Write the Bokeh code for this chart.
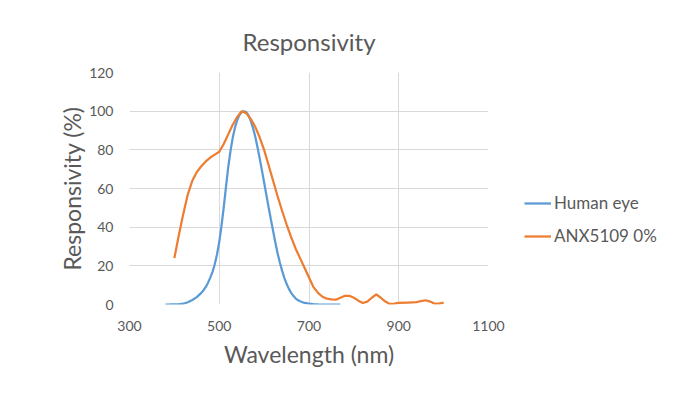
from bokeh.plotting import figure
from bokeh.layouts import row
from bokeh.models import Range1d, FixedTicker, Legend, LegendItem
from bokeh.embed import file_html
from bokeh.resources import INLINE

eye_wl = [380, 390, 400, 410, 420, 430, 440, 450, 460, 465, 470, 475, 480, 485, 490, 495,
          500, 505, 510, 515, 520, 525, 530, 535, 540, 545, 550, 555, 560, 565, 570, 575,
          580, 585, 590, 595, 600, 605, 610, 615, 620, 625, 630, 635, 640, 645, 650, 655,
          660, 665, 670, 675, 680, 690, 700, 710, 720, 740, 770]
eye_val = [0.0, 0.01, 0.04, 0.12, 0.4, 1.16, 2.3, 3.8, 6.0, 7.4, 9.1, 11.3, 13.9, 16.9,
           20.8, 25.9, 32.3, 40.7, 50.3, 60.8, 71.0, 79.3, 86.2, 91.5, 95.4, 98.0, 99.5,
           100.0, 99.5, 97.9, 95.2, 91.5, 87.0, 81.6, 75.7, 69.5, 63.1, 56.7, 50.3, 44.1,
           38.1, 32.1, 26.5, 21.7, 17.5, 13.8, 10.7, 8.2, 6.1, 4.5, 3.2, 2.3, 1.7, 0.8,
           0.4, 0.2, 0.1, 0.0, 0.0]

anx_wl = [400, 410, 420, 430, 440, 450, 460, 470, 480, 490, 500, 510, 520, 530, 540, 550,
          560, 570, 580, 590, 600, 610, 620, 630, 640, 650, 660, 670, 680, 690, 700, 710,
          720, 730, 740, 750, 760, 770, 780, 790, 800, 810, 820, 830, 840, 850, 860, 870,
          880, 890, 900, 920, 940, 950, 960, 970, 980, 990, 1000]
anx_val = [24, 36, 47, 57, 64, 68.5, 71.5, 74, 76, 77.5, 79, 83, 88, 93, 97, 100,
           99, 96, 92, 86.5, 80, 72, 64, 56, 48.5, 41.5, 35, 29, 24, 19, 14, 9,
           6, 4, 3, 2.7, 2.5, 3.5, 4.5, 4.5, 3.5, 2, 0.8, 1.5, 3.5, 5.2, 3.5, 1.5,
           0.3, 0.5, 0.8, 1, 1.2, 1.8, 2.2, 1.5, 0.4, 0.5, 1]

series_names = ["Human eye", "ANX5109 0%"]
series_colors = ["#5B9BD5", "#ED7D31"]

x_ticks = [300, 500, 700, 900, 1100]
y_ticks = [0, 20, 40, 60, 80, 100, 120]

FONT = "Lato"
GRAY = "#595959"

W, H = 690, 390
PW = 508
p = figure(width=PW, height=H, output_backend="svg", toolbar_location=None,
           x_range=Range1d(300, 1100), y_range=Range1d(0, 120),
           min_border_left=129, min_border_right=PW - 488, min_border_top=72,
           min_border_bottom=H - 304)

p.title.text = "Responsivity"
p.title.align = "center"
p.title.text_font = FONT
p.title.text_font_size = "24px"
p.title.text_font_style = "normal"
p.title.text_color = GRAY
p.title.standoff = 34

p.outline_line_color = None
p.background_fill_color = "white"
p.border_fill_color = "white"

p.xaxis.ticker = FixedTicker(ticks=x_ticks)
p.yaxis.ticker = FixedTicker(ticks=y_ticks)
for ax in (p.xaxis[0], p.yaxis[0]):
    ax.axis_line_color = None
    ax.major_tick_line_color = None
    ax.minor_tick_line_color = None
    ax.major_label_text_font = FONT
    ax.major_label_text_font_size = "14px"
    ax.major_label_text_color = GRAY
    ax.axis_label_text_font = FONT
    ax.axis_label_text_font_size = "23px"
    ax.axis_label_text_font_style = "normal"
    ax.axis_label_text_color = GRAY
    ax.major_label_standoff = 10

p.xaxis.axis_label = "Wavelength (nm)"
p.yaxis.axis_label = "Responsivity (%)"
p.xaxis.axis_label_standoff = 6
p.yaxis.axis_label_standoff = 0

p.xgrid.grid_line_color = "#D9D9D9"
p.ygrid.grid_line_color = "#D9D9D9"

p.line(eye_wl, eye_val, line_color=series_colors[0], line_width=2.25)
p.line(anx_wl, anx_val, line_color=series_colors[1], line_width=2.25)

# legend panel on the right
lf = figure(width=W - PW, height=H, output_backend="svg", toolbar_location=None,
            x_range=Range1d(-20, -10), y_range=Range1d(0, 120),
            min_border=0, outline_line_color=None)
lf.axis.visible = False
lf.grid.visible = False
lr1 = lf.line(eye_wl, eye_val, line_color=series_colors[0], line_width=2.25)
lr2 = lf.line(anx_wl, anx_val, line_color=series_colors[1], line_width=2.25)

legend = Legend(items=[LegendItem(label=series_names[0], renderers=[lr1]),
                       LegendItem(label=series_names[1], renderers=[lr2])],
                location=(16, 58), orientation="vertical", margin=0, padding=5,
                background_fill_alpha=0, border_line_color=None,
                label_text_font=FONT, label_text_font_size="17px",
                label_text_color=GRAY, glyph_width=27, spacing=12,
                label_standoff=3)
lf.add_layout(legend, "center")

layout = row(p, lf, spacing=0)
open("out.html", "w").write(file_html(layout, INLINE))
